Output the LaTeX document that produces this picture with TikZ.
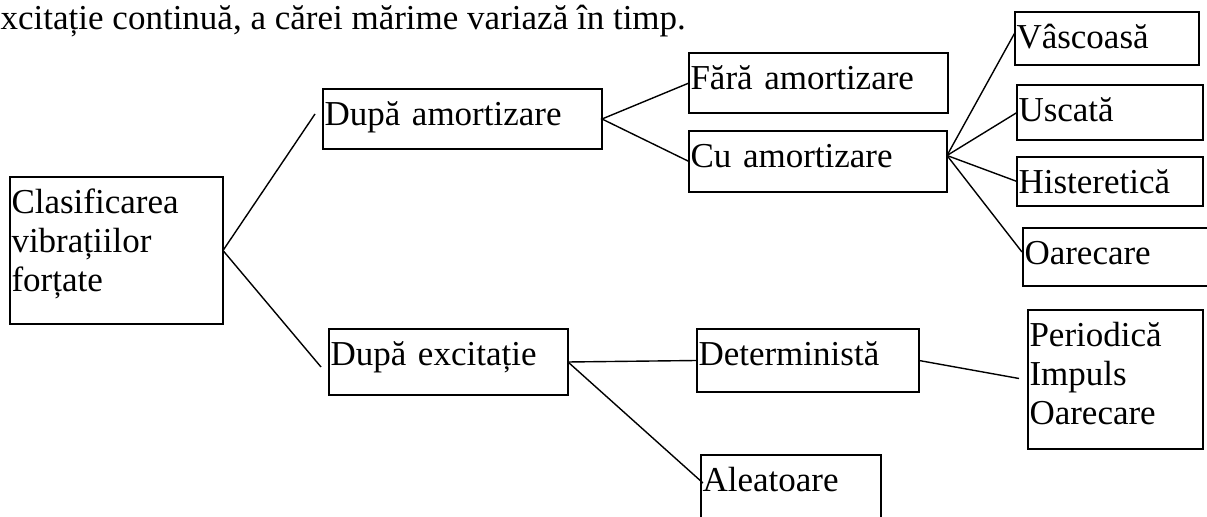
\documentclass[tikz,border=0pt]{standalone}
\usepackage{fontspec}
\setmainfont{Liberation Serif}
\usepackage{tikz}

\begin{document}
\begin{tikzpicture}[x=0.5pt, y=-0.5pt, line width=0.7pt,
    box/.style={draw, rectangle, anchor=north west, inner xsep=0.75pt, inner ysep=0pt,
      outer sep=0pt, align=left, text height=18.5pt, font=\fontsize{17.5}{19.5}\selectfont}]
    \useasboundingbox (0, 0) rectangle (1207, 517);

    \node [anchor=base west, inner sep=0pt, font=\fontsize{17.5}{19.5}\selectfont] (title) at (0, 30)
      {xcitație continuă, a cărei mărime variază în timp.};

    \node [box, text width=105pt, text height=18.5pt, text depth=55pt] (clas) at (10, 177)
      {Clasificarea\\vibrațiilor\\forțate};
    \node [box, text width=138pt, text depth=11.5pt] (amort) at (323, 89) {După amortizare};
    \node [box, text width=118pt, text depth=14.5pt] (excit) at (329, 329) {După excitație};
    \node [box, text width=128pt, text depth=11.5pt] (fara) at (689, 53) {Fără amortizare};
    \node [box, text width=127.5pt, text depth=12pt] (cu) at (689, 131) {Cu amortizare};
    \node [box, text width=90.5pt, text depth=8pt] (visc) at (1015, 12) {Vâscoasă};
    \node [box, text width=91.5pt, text depth=9pt] (usc) at (1017, 85) {Uscată};
    \node [box, text width=91.5pt, text depth=6pt] (hist) at (1017, 157) {Histeretică};
    \node [box, text width=93.5pt, text depth=10.5pt] (oare) at (1023, 228) {Oarecare};
    \node [box, text width=109.5pt, text depth=13pt] (det) at (697, 329) {Deterministă};
    \node [box, text width=86pt, text depth=51pt] (per) at (1028, 310) {Periodică\\Impuls\\Oarecare};
    \node [box, text width=88.5pt, text depth=21.5pt] (alea) at (701, 455) {Aleatoare};

    \draw (clas.east) -- ([shift={(-8,-5)}]amort.west);
    \draw (clas.east) -- ([shift={(-8,5)}]excit.west);

    \draw (fara.west) -- (amort.east) -- (cu.west);

    \draw ([yshift=3pt]cu.east) -- ([yshift=3pt]visc.west);
    \draw ([yshift=3pt]cu.east) -- (usc.west);
    \draw ([yshift=3pt]cu.east) -- (hist.west);
    \draw ([yshift=3pt]cu.east) -- ([shift={(-1,-5)}]oare.west);

    \draw (excit.east) -- (det.west);
    \draw (excit.east) -- ([shift={(2,28)}]alea.north west);
    \draw (det.east) -- ([shift={(-9,-1)}]per.west);
  \end{tikzpicture}
\end{document}
